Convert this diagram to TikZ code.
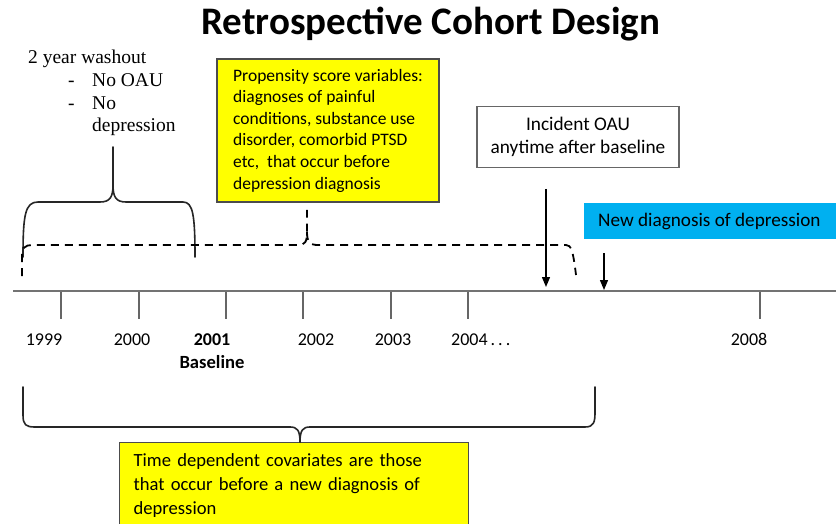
\documentclass[tikz,border=0pt]{standalone}
\usepackage{fontspec}
\setmainfont{Carlito}
\newfontfamily\seriffont{Liberation Serif}
\usetikzlibrary{arrows.meta}
\definecolor{cyanblue}{HTML}{00B0F0}
\definecolor{boxyellow}{HTML}{FFFF00}
\begin{document}
\begin{tikzpicture}[x=1pt,y=-1pt,
  brace/.style={draw=black!85, line width=1.6pt, line cap=round, line join=round},
  dashbrace/.style={draw=black, line width=1.8pt, dash pattern=on 8pt off 6pt},
  axis/.style={draw=black!55, line width=2.6pt},
  tickline/.style={draw=black!60, line width=1.2pt},
  yr/.style={font=\fontsize{18}{20}\selectfont, anchor=base, inner sep=0pt},
  arrowline/.style={draw=black, line width=1.3pt, -{Triangle[length=10pt,width=8pt]}},
  yellowbox/.style={draw=black!70, line width=1.3pt, fill=boxyellow},
]
\useasboundingbox (0,0) rectangle (836,524);
\fill[white] (0,0) rectangle (836,524);

% title
\node[font=\fontsize{39}{42}\selectfont\bfseries, anchor=base, inner sep=0pt] (title) at (431,35) {Retrospective Cohort Design};

% washout text
\node[anchor=north west, inner sep=0pt, align=left, font=\seriffont\fontsize{19.5}{22.7}\selectfont] (washout) at (28,50)
  {2 year washout\\\hspace*{40pt}\makebox[24pt][l]{-}No OAU\\\hspace*{40pt}\makebox[24pt][l]{-}No\\\hspace*{64pt}depression};

% propensity box
\node[yellowbox, minimum width=222pt, minimum height=143pt, align=left, font=\fontsize{17.5}{21.6}\selectfont] (prop) at (328,130.5)
  {Propensity score variables:\\diagnoses of painful\\conditions, substance use\\disorder, comorbid PTSD\\etc,\ \ that occur before\\depression diagnosis};

% incident box
\node[draw=black!60, line width=1.2pt, fill=white, minimum width=202pt, minimum height=61pt, align=center, font=\fontsize{19.3}{23}\selectfont] (incident) at (578,137)
  {Incident OAU\\anytime after baseline};

% new diagnosis box
\node[fill=cyanblue, anchor=north west, minimum width=252pt, minimum height=36pt, inner xsep=14pt, font=\fontsize{19.2}{22}\selectfont] (newdx) at (584,203)
  {\makebox[224pt][l]{\raisebox{-1pt}{New diagnosis of depression}}};

% bottom yellow box
\node[yellowbox, anchor=north west, minimum width=349pt, minimum height=86pt, text width=321pt, inner xsep=14pt, align=left, font=\fontsize{18.6}{24}\selectfont] (covbox) at (119,442)
  {Time dependent covariates are those\\that occur before a new diagnosis of\\depression};

% timeline
\coordinate (axL) at (13,291);
\coordinate (axR) at (836,291);
\draw[axis] (axL) -- (axR);
\foreach \n/\x in {1999/61,2000/139,2001/226,2002/303,2003/391,2004/468,2008/760}{
  \coordinate (t\n) at (\x,292);
  \draw[tickline] (t\n) -- ++(0,27);
}
\node[yr] (l1999) at (44,345) {1999};
\node[yr] (l2000) at (132,345) {2000};
\node[yr, font=\fontsize{18}{20}\selectfont\bfseries] (l2001) at (212,345) {2001};
\node[yr, font=\fontsize{18.6}{20}\selectfont\bfseries] (lbase) at (212,368) {Baseline};
\node[yr] (l2002) at (316,345) {2002};
\node[yr] (l2003) at (393,345) {2003};
\node[yr, anchor=base west] (l2004) at (451,345) {2004\,.\,.\,.};
\node[yr] (l2008) at (749,345) {2008};

% arrows
\coordinate (a1s) at (546,189);
\coordinate (a1e) at (546,287);
\draw[arrowline] (a1s) -- (a1e);
\coordinate (a2s) at (604,253);
\coordinate (a2e) at (604,290);
\draw[arrowline] (a2s) -- (a2e);

% top solid brace (washout)
\draw[brace] (23,257) .. controls (23,215) and (25,202) .. (38,202) -- (100,202)
  .. controls (110,202) and (113,197) .. (113,185) -- (113,147);
\draw[brace] (113,185) .. controls (113,197) and (116,202) .. (126,202) -- (183,202)
  .. controls (193,202) and (195,215) .. (195,257);

% dashed brace
\draw[dashbrace] (22,276) -- (22,256) .. controls (22,248) and (25,245) .. (32,245) -- (298,245)
  .. controls (305,245) and (307,242) .. (307,232) -- (307,210);
\draw[dashbrace] (307,232) .. controls (307,242) and (310,245) .. (318,245) -- (566,245)
  .. controls (571,245) and (573,250) .. (576,275);

% bottom brace
\draw[brace] (23,387) -- (23,415) .. controls (23,425) and (26,427) .. (35,427) -- (290,427)
  .. controls (297,427) and (300,430) .. (300,442);
\draw[brace] (300,442) .. controls (300,430) and (303,427) .. (310,427) -- (585,427)
  .. controls (594,427) and (595,422) .. (595,412) -- (595,387);
\end{tikzpicture}
\end{document}
